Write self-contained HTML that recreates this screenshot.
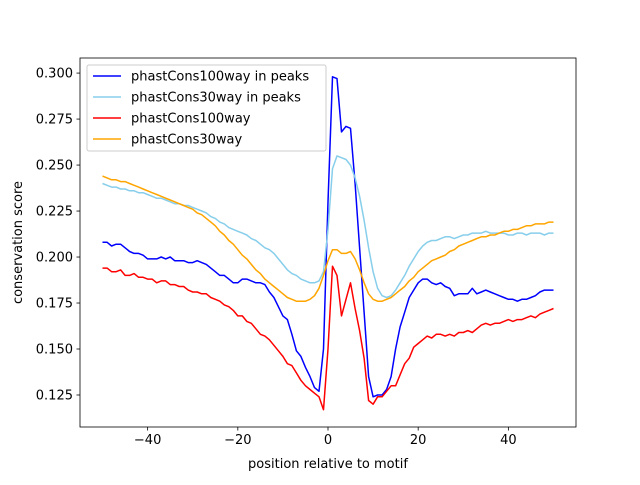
<!DOCTYPE html>
<html><head><meta charset="utf-8"><style>
body{margin:0;background:#fff;font-family:"Liberation Sans","DejaVu Sans",sans-serif;}
svg text{font-family:"DejaVu Sans","Liberation Sans",sans-serif;font-size:13px;fill:#000;}
</style></head><body>
<svg id="chart" width="640" height="480"></svg>
<script>
const xs = []; for (let i=-50;i<=50;i++) xs.push(i);
const blue100 = [.208,.208,.206,.207,.207,.205,.203,.202,.202,.201,
.199,.199,.199,.200,.199,.200,.198,.198,.198,.197,
.197,.198,.197,.196,.194,.192,.190,.190,.188,.186,
.186,.188,.188,.187,.186,.186,.185,.181,.178,.173,
.168,.166,.158,.149,.146,.140,.135,.129,.127,.150,
.230,.298,.297,.268,.271,.270,.240,.205,.170,.135,
.124,.125,.125,.128,.135,.150,.162,.170,.178,.182,
.186,.188,.188,.186,.185,.186,.184,.183,.179,.180,
.180,.180,.183,.180,.181,.182,.181,.180,.179,.178,
.177,.177,.176,.177,.177,.178,.179,.181,.182,.182,.182];
const sky30 = [.240,.239,.238,.238,.237,.237,.236,.236,.235,.235,
.234,.233,.232,.232,.231,.230,.229,.229,.228,.228,
.227,.226,.225,.224,.222,.221,.219,.218,.216,.215,
.214,.213,.212,.210,.209,.207,.205,.204,.202,.199,
.196,.193,.191,.190,.188,.187,.186,.186,.187,.192,
.215,.248,.255,.254,.253,.250,.243,.233,.220,.205,
.192,.183,.179,.178,.179,.182,.186,.190,.195,.199,
.203,.206,.208,.209,.209,.210,.211,.211,.210,.211,
.212,.212,.213,.213,.213,.214,.213,.213,.213,.213,
.212,.212,.213,.213,.212,.213,.213,.213,.212,.213,.213];
const red100 = [.194,.194,.192,.192,.193,.190,.190,.191,.189,.189,
.188,.188,.186,.187,.187,.185,.185,.184,.184,.182,
.181,.181,.180,.180,.178,.177,.176,.174,.173,.171,
.168,.168,.165,.164,.161,.158,.157,.155,.152,.149,
.146,.142,.141,.137,.133,.130,.128,.126,.124,.117,
.150,.195,.190,.168,.177,.186,.172,.160,.145,.122,
.120,.124,.124,.127,.130,.130,.136,.142,.145,.151,
.153,.155,.157,.156,.158,.158,.157,.158,.157,.159,
.159,.160,.159,.161,.163,.164,.163,.164,.164,.165,
.166,.165,.166,.166,.167,.168,.167,.169,.170,.171,.172];
const orange30 = [.244,.243,.242,.242,.241,.241,.240,.239,.238,.237,
.236,.235,.234,.233,.232,.231,.230,.229,.228,.227,
.226,.224,.223,.221,.219,.217,.214,.212,.209,.207,
.204,.201,.199,.196,.193,.191,.188,.186,.184,.182,
.180,.178,.177,.176,.176,.176,.177,.179,.183,.190,
.198,.204,.204,.202,.202,.203,.199,.193,.186,.180,
.177,.176,.176,.177,.178,.180,.182,.184,.187,.189,
.192,.194,.196,.198,.199,.200,.201,.203,.204,.206,
.207,.208,.209,.210,.211,.211,.212,.212,.213,.214,
.214,.215,.215,.216,.217,.217,.218,.218,.218,.219,.219];
const xTicks = [-40,-20,0,20,40];
const yTicks = [0.125,0.150,0.175,0.200,0.225,0.250,0.275,0.300];
const seriesNames = ["phastCons100way in peaks","phastCons30way in peaks","phastCons100way","phastCons30way"];

const L=80,R=576,T=58,B=427;
const xMin=-55,xMax=55,yMin=0.1076,yMax=0.3082;
const sx=v=>L+(v-xMin)/(xMax-xMin)*(R-L);
const sy=v=>B-(v-yMin)/(yMax-yMin)*(B-T);
const svg=document.getElementById('chart');
const NS='http://www.w3.org/2000/svg';
function mk(tag,attrs,parent){const e=document.createElementNS(NS,tag);for(const k in attrs)e.setAttribute(k,attrs[k]);(parent||svg).appendChild(e);return e;}

const series=[[blue100,'#0000ff','line-phastcons100way-peaks'],[sky30,'#87ceeb','line-phastcons30way-peaks'],[red100,'#ff0000','line-phastcons100way'],[orange30,'#ffa500','line-phastcons30way']];
series.forEach(s=>{
  const p=mk('polyline',{points:s[0].map((v,i)=>sx(xs[i]).toFixed(1)+','+sy(v).toFixed(1)).join(' '),fill:'none',stroke:s[1],'stroke-width':1.5,'stroke-linejoin':'round'});
  
  
});
const frame=mk('rect',{x:L,y:T,width:R-L,height:B-T,fill:'none',stroke:'#000','stroke-width':0.8});


xTicks.forEach(t=>{
  mk('line',{x1:sx(t),x2:sx(t),y1:B,y2:B+3.5,stroke:'#000','stroke-width':0.8});
  const tx=mk('text',{x:sx(t),y:B+17,'text-anchor':'middle'});tx.textContent=(t<0?'\u2212'+(-t):t);
  
  
});
yTicks.forEach(t=>{
  mk('line',{x1:L-3.5,x2:L,y1:sy(t),y2:sy(t),stroke:'#000','stroke-width':0.8});
  const tx=mk('text',{x:L-7,y:sy(t)+4.5,'text-anchor':'end'});tx.textContent=t.toFixed(3);
  
  
});
const xl=mk('text',{x:(L+R)/2,y:468,'text-anchor':'middle'});xl.textContent='position relative to motif';


const yl=mk('text',{x:22,y:(T+B)/2,'text-anchor':'middle',transform:'rotate(-90 22 '+((T+B)/2)+')'});yl.textContent='conservation score';


const lg=mk('g',{});


mk('rect',{x:87,y:65,width:239,height:86,rx:2,fill:'#fff','fill-opacity':0.8,stroke:'#ccc','stroke-width':1},lg);
series.forEach((s,i)=>{
  const y=76+i*21;
  mk('line',{x1:93,x2:121,y1:y,y2:y,stroke:s[1],'stroke-width':1.5},lg);
  const t=mk('text',{x:131,y:y+4.5},lg);t.textContent=seriesNames[i];
  
  
});
</script>
</body></html>
